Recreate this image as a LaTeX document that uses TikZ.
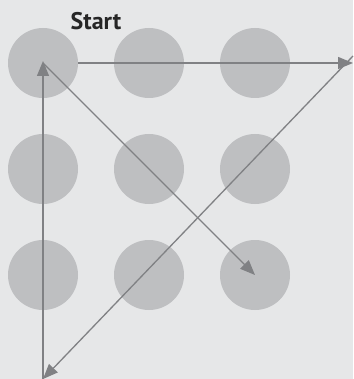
\documentclass[tikz,border=0pt]{standalone}
\usepackage{fontspec}
\setmainfont{PT Sans}
\usetikzlibrary{arrows.meta}
\definecolor{bg}{HTML}{E6E7E8}
\definecolor{dot}{HTML}{BEBFC1}
\definecolor{ln}{HTML}{808184}
\begin{document}
\begin{tikzpicture}[x=1pt,y=-1pt,
  dotc/.style={circle,fill=dot,minimum size=70pt,inner sep=0pt},
  path/.style={draw=ln,line width=1.3pt,-{Triangle[length=15pt,width=12pt]}}]
\fill[bg] (0,0) rectangle (353,379);
\useasboundingbox (0,0) rectangle (353,379);
\foreach \r/\y in {1/63,2/169,3/275}{
  \foreach \c/\x in {1/43,2/149,3/255}{
    \node[dotc] (d\r\c) at (\x,\y) {};
  }
}
\node[font=\bfseries\fontsize{24}{24}\selectfont,text=black!85,inner sep=0pt] (start) at (96,21) {Start};
\coordinate (tr) at (353,63);
\coordinate (bl) at (43,379);
\draw[path] (d11.east) -- (tr);
\draw[path] ([yshift=7pt]tr) -- (bl);
\draw[path,shorten >=0pt] (bl) -- ([yshift=2pt]d11.center);
\draw[path] (d11.center) -- (d33.center);
\end{tikzpicture}
\end{document}
